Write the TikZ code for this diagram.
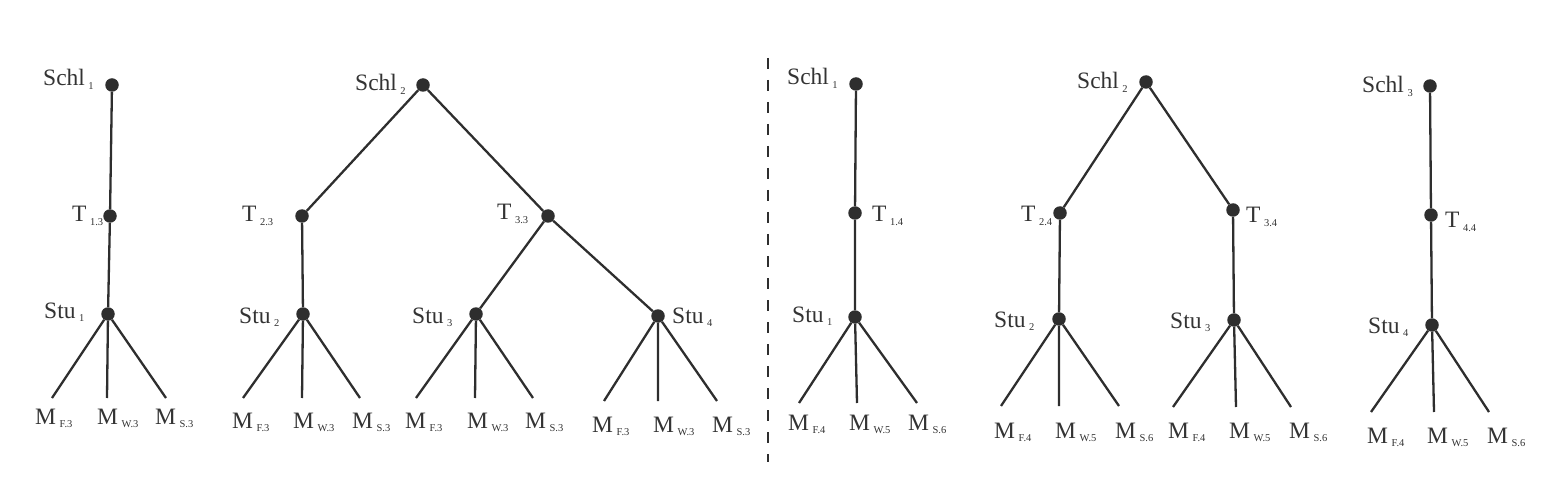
\documentclass[tikz,border=0pt]{standalone}
\usepackage{fontspec}
\setmainfont{Liberation Serif}
\definecolor{ink}{HTML}{2E2E2E}
\definecolor{txt}{HTML}{333333}
\newcommand{\lbl}[2]{#1\kern3.5pt\raisebox{-3.5pt}{\fontsize{10.5}{12}\selectfont #2}}
\begin{document}
\begin{tikzpicture}[x=1pt,y=-1pt,
  dot/.style={circle,fill=ink,inner sep=0pt,minimum size=13.5pt},
  lab/.style={anchor=base west,inner sep=0pt,text=txt,font=\fontsize{23.5}{26}\selectfont},
  edge/.style={draw=ink,line width=2.3pt},
  sep/.style={draw=ink,line width=2.6pt,dash pattern=on 11pt off 11pt}]
\useasboundingbox (0,0) rectangle (1546,478);

% ---------- Tree 1 ----------
\node[dot] (A1) at (112,85) {};
\node[dot] (A2) at (110,216) {};
\node[dot] (A3) at (108,314) {};
\node[lab] (A1l) at (43,86) {\lbl{Schl}{1}};
\node[lab] (A2l) at (72,222) {\lbl{T}{1.3}};
\node[lab] (A3l) at (44,318) {\lbl{Stu}{1}};
\coordinate (A3a) at (52,398);
\coordinate (A3b) at (107,398);
\coordinate (A3c) at (166,398);
\node[lab] (A3al) at (35,424) {\lbl{M}{F.3}};
\node[lab] (A3bl) at (97,424) {\lbl{M}{W.3}};
\node[lab] (A3cl) at (155,424) {\lbl{M}{S.3}};
\draw[edge] (A1) -- (A2) -- (A3);
\draw[edge] (A3) -- (A3a) (A3) -- (A3b) (A3) -- (A3c);

% ---------- Tree 2 ----------
\node[dot] (B1) at (423,85) {};
\node[dot] (B2) at (302,216) {};
\node[dot] (B3) at (303,314) {};
\node[dot] (B4) at (548,216) {};
\node[dot] (B5) at (476,314) {};
\node[dot] (B6) at (658,316) {};
\node[lab] (B1l) at (355,91) {\lbl{Schl}{2}};
\node[lab] (B2l) at (242,222) {\lbl{T}{2.3}};
\node[lab] (B3l) at (239,323) {\lbl{Stu}{2}};
\node[lab] (B4l) at (497,220) {\lbl{T}{3.3}};
\node[lab] (B5l) at (412,323) {\lbl{Stu}{3}};
\node[lab] (B6l) at (672,323) {\lbl{Stu}{4}};
\draw[edge] (B2) -- (B1) -- (B4);
\draw[edge] (B2) -- (B3);
\draw[edge] (B5) -- (B4) -- (B6);
\coordinate (B3a) at (243,398);
\coordinate (B3b) at (302,398);
\coordinate (B3c) at (360,398);
\coordinate (B5a) at (416,398);
\coordinate (B5b) at (475,398);
\coordinate (B5c) at (533,398);
\coordinate (B6a) at (604,401);
\coordinate (B6b) at (658,401);
\coordinate (B6c) at (717,401);
\draw[edge] (B3) -- (B3a) (B3) -- (B3b) (B3) -- (B3c);
\draw[edge] (B5) -- (B5a) (B5) -- (B5b) (B5) -- (B5c);
\draw[edge] (B6) -- (B6a) (B6) -- (B6b) (B6) -- (B6c);
\node[lab] (B3al) at (232,428) {\lbl{M}{F.3}};
\node[lab] (B3bl) at (293,428) {\lbl{M}{W.3}};
\node[lab] (B3cl) at (352,428) {\lbl{M}{S.3}};
\node[lab] (B5al) at (405,428) {\lbl{M}{F.3}};
\node[lab] (B5bl) at (467,428) {\lbl{M}{W.3}};
\node[lab] (B5cl) at (525,428) {\lbl{M}{S.3}};
\node[lab] (B6al) at (592,432) {\lbl{M}{F.3}};
\node[lab] (B6bl) at (653,432) {\lbl{M}{W.3}};
\node[lab] (B6cl) at (712,432) {\lbl{M}{S.3}};

% ---------- separator ----------
\coordinate (S1) at (768,58);
\coordinate (S2) at (768,462);
\draw[sep] (S1) -- (S2);

% ---------- Tree 3 ----------
\node[dot] (C1) at (856,84) {};
\node[dot] (C2) at (855,213) {};
\node[dot] (C3) at (855,317) {};
\node[lab] (C1l) at (787,85) {\lbl{Schl}{1}};
\node[lab] (C2l) at (872,222) {\lbl{T}{1.4}};
\node[lab] (C3l) at (792,322) {\lbl{Stu}{1}};
\draw[edge] (C1) -- (C2) -- (C3);
\coordinate (C3a) at (799,403);
\coordinate (C3b) at (857,403);
\coordinate (C3c) at (917,403);
\draw[edge] (C3) -- (C3a) (C3) -- (C3b) (C3) -- (C3c);
\node[lab] (C3al) at (788,430) {\lbl{M}{F.4}};
\node[lab] (C3bl) at (849,430) {\lbl{M}{W.5}};
\node[lab] (C3cl) at (908,430) {\lbl{M}{S.6}};

% ---------- Tree 4 ----------
\node[dot] (D1) at (1146,82) {};
\node[dot] (D2) at (1060,213) {};
\node[dot] (D3) at (1059,319) {};
\node[dot] (D4) at (1233,210) {};
\node[dot] (D5) at (1234,320) {};
\node[lab] (D1l) at (1077,89) {\lbl{Schl}{2}};
\node[lab] (D2l) at (1021,222) {\lbl{T}{2.4}};
\node[lab] (D3l) at (994,327) {\lbl{Stu}{2}};
\node[lab] (D4l) at (1246,223) {\lbl{T}{3.4}};
\node[lab] (D5l) at (1170,328) {\lbl{Stu}{3}};
\draw[edge] (D2) -- (D1) -- (D4);
\draw[edge] (D2) -- (D3);
\draw[edge] (D4) -- (D5);
\coordinate (D3a) at (1001,406);
\coordinate (D3b) at (1059,406);
\coordinate (D3c) at (1119,406);
\coordinate (D5a) at (1173,407);
\coordinate (D5b) at (1236,407);
\coordinate (D5c) at (1291,407);
\draw[edge] (D3) -- (D3a) (D3) -- (D3b) (D3) -- (D3c);
\draw[edge] (D5) -- (D5a) (D5) -- (D5b) (D5) -- (D5c);
\node[lab] (D3al) at (994,438) {\lbl{M}{F.4}};
\node[lab] (D3bl) at (1055,438) {\lbl{M}{W.5}};
\node[lab] (D3cl) at (1115,438) {\lbl{M}{S.6}};
\node[lab] (D5al) at (1168,438) {\lbl{M}{F.4}};
\node[lab] (D5bl) at (1229,438) {\lbl{M}{W.5}};
\node[lab] (D5cl) at (1289,438) {\lbl{M}{S.6}};

% ---------- Tree 5 ----------
\node[dot] (E1) at (1430,86) {};
\node[dot] (E2) at (1431,215) {};
\node[dot] (E3) at (1432,325) {};
\node[lab] (E1l) at (1362,93) {\lbl{Schl}{3}};
\node[lab] (E2l) at (1445,228) {\lbl{T}{4.4}};
\node[lab] (E3l) at (1368,333) {\lbl{Stu}{4}};
\draw[edge] (E1) -- (E2) -- (E3);
\coordinate (E3a) at (1371,412);
\coordinate (E3b) at (1434,412);
\coordinate (E3c) at (1489,412);
\draw[edge] (E3) -- (E3a) (E3) -- (E3b) (E3) -- (E3c);
\node[lab] (E3al) at (1367,443) {\lbl{M}{F.4}};
\node[lab] (E3bl) at (1427,443) {\lbl{M}{W.5}};
\node[lab] (E3cl) at (1487,443) {\lbl{M}{S.6}};
\end{tikzpicture}
\end{document}
